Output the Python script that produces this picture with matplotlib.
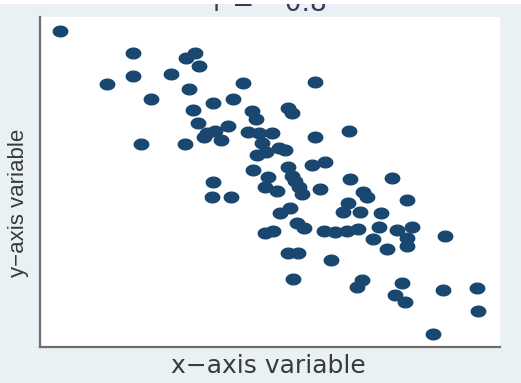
import matplotlib
matplotlib.use("Agg")
import matplotlib.pyplot as plt
from matplotlib.path import Path
from matplotlib.patches import Rectangle
import numpy as np

# points (pixel-ish units, x from left axis, y from bottom axis)
xs = [20, 93, 155, 146, 159, 93, 131, 67, 149, 203, 275, 111, 173, 193, 153,
      212, 248, 252, 216, 158, 188, 167, 175, 164, 181, 208, 219, 232, 222, 239,
      217, 226, 275, 309, 101, 145, 213, 248, 272, 285, 228, 252, 255, 225, 237,
      259, 262, 280, 310, 352, 323, 327, 173, 172, 191, 367, 308, 303, 320, 341,
      240, 225, 233, 264, 284, 295, 307, 318, 339, 357, 372, 333, 367, 367, 347,
      405, 248, 258, 291, 253, 322, 317, 362, 355, 365, 403, 437, 438, 393, 245,
      250, 257]
ys = [316, 294, 294, 289, 281, 271, 273, 263, 258, 264, 265, 248, 244, 248, 237,
      236, 239, 234, 228, 224, 221, 214, 216, 210, 207, 215, 214, 214, 204, 199,
      192, 195, 210, 216, 203, 203, 177, 180, 182, 185, 170, 171, 166, 160, 156,
      160, 153, 158, 168, 169, 155, 150, 165, 150, 150, 147, 144, 135, 135, 134,
      134, 114, 116, 119, 116, 115, 116, 118, 120, 117, 120, 108, 109, 101, 98,
      111, 94, 94, 87, 68, 67, 60, 64, 52, 45, 57, 59, 36, 13, 197, 139, 124]

navy = "#1a476f"
bg = "#e9f1f5"

# slightly squashed circle, the picture is stretched sideways
t = np.linspace(0, 2 * np.pi, 60)
ell = Path(np.column_stack([np.cos(t), 0.76 * np.sin(t)]), closed=True)

fig = plt.figure(figsize=(5.21, 3.83), dpi=100, facecolor=bg)
ax = fig.add_axes([40 / 521, 36 / 383, 460 / 521, 330 / 383])
ax.set_facecolor("white")

ax.scatter(xs, ys, s=130, marker=ell, color=navy, linewidths=0, zorder=3)

ax.set_xlim(0, 460)
ax.set_ylim(0, 330)
ax.set_xticks([])
ax.set_yticks([])
for side in ["top", "right"]:
    ax.spines[side].set_visible(False)
for side in ["left", "bottom"]:
    ax.spines[side].set_color("#6e6e6e")
    ax.spines[side].set_linewidth(1.6)

fig.text(268 / 521, 10 / 383, "x\u2212axis variable", ha="center", va="baseline",
         fontsize=18, color="#3a3a3a", family="DejaVu Sans")
fig.text(19 / 521, 180 / 383, "y\u2212axis variable", ha="center", va="center",
         rotation=90, fontsize=16, color="#3a3a3a", family="Liberation Sans")
# title is mostly cut off at the top edge of the picture
fig.text(270 / 521, 1 - 11 / 383, "r = \u22120.8", ha="center", va="baseline",
         fontsize=19, color="#3a3a55", family="DejaVu Sans")
# thin white strip along the top edge
fig.patches.append(Rectangle((0, 1 - 3.5 / 383), 1, 3.5 / 383, transform=fig.transFigure,
                             facecolor="white", edgecolor="none", zorder=10))

fig.savefig("out.png", dpi=100, facecolor=bg)
